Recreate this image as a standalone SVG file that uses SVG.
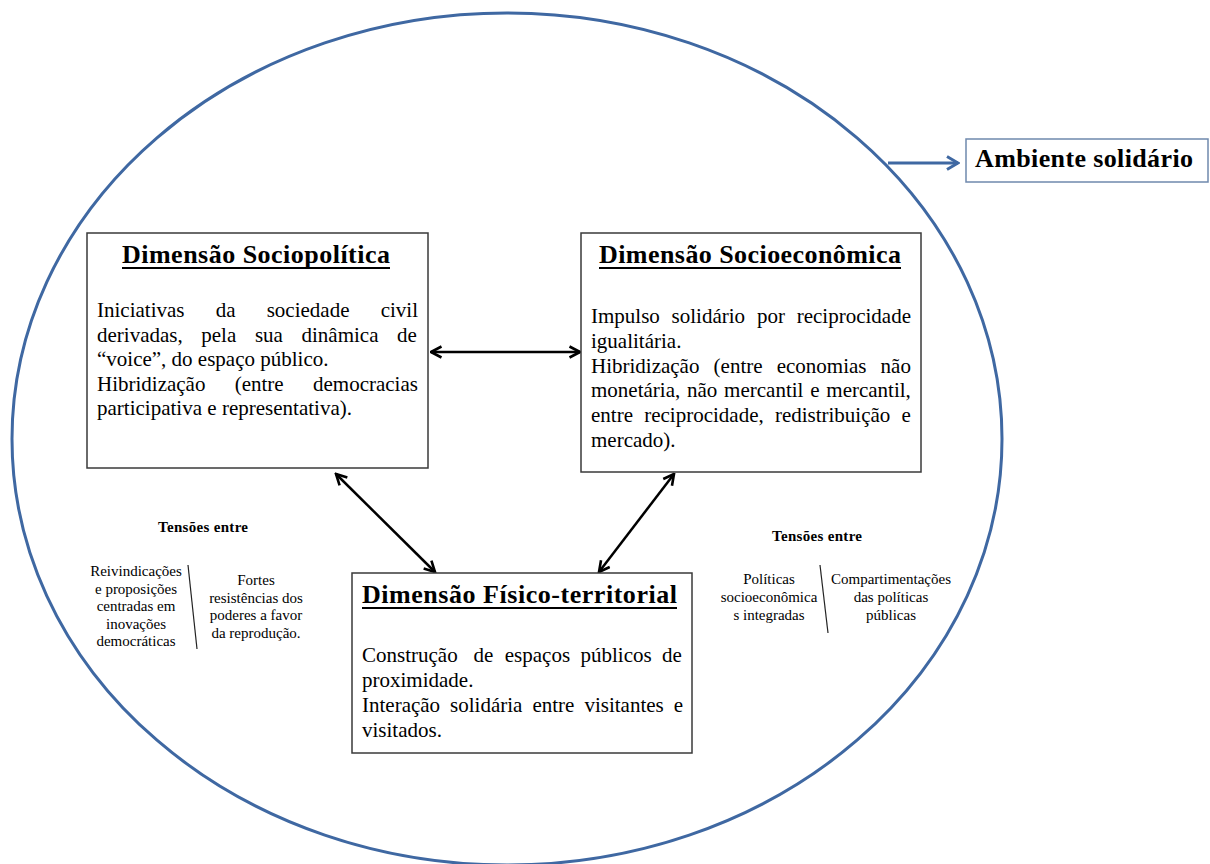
<svg xmlns="http://www.w3.org/2000/svg" width="1210" height="864" viewBox="0 0 1210 864">
  <style>
    .box { fill: #ffffff; stroke: #3a3a3a; stroke-width: 1.5; }
    .title { font-family: "Liberation Serif", "Times New Roman", serif; font-weight: bold; font-size: 26px; fill: #000; }
    .uline { stroke: #000; stroke-width: 2; }
    .body { font-family: "Liberation Serif", "Times New Roman", serif; font-size: 21px; fill: #000; }
    .small { font-family: "Liberation Serif", "Times New Roman", serif; font-size: 15px; fill: #000; text-anchor: middle; }
    .smallb { font-family: "Liberation Serif", "Times New Roman", serif; font-size: 15px; font-weight: bold; fill: #000; text-anchor: middle; }
    .link { stroke: #000; stroke-width: 2.5; fill: none; }
    .sep { stroke: #222; stroke-width: 1.2; }
  </style>
  <defs>
    <marker id="head" viewBox="0 0 14 14" refX="12.5" refY="7" markerWidth="14" markerHeight="14" markerUnits="userSpaceOnUse" orient="auto-start-reverse">
      <path d="M2,1.5 L12.5,7 L2,12.5" fill="none" stroke="#000" stroke-width="2.6" stroke-linejoin="miter"/>
    </marker>
    <marker id="headBlue" viewBox="0 0 16 16" refX="14" refY="8" markerWidth="16" markerHeight="16" markerUnits="userSpaceOnUse" orient="auto">
      <path d="M3,1.5 L14,8 L3,14.5" fill="none" stroke="#3f68a2" stroke-width="3"/>
    </marker>
  </defs>

  <rect width="1210" height="864" fill="#ffffff"/>

  <!-- outer environment -->
  <g id="ambiente">
    <ellipse cx="507" cy="439" rx="495" ry="426" fill="none" stroke="#3f68a2" stroke-width="3"/>
    <rect x="966" y="139" width="242" height="43" fill="#ffffff" stroke="#6f89ad" stroke-width="1.5"/>
    <text x="975" y="167" class="title" font-size="26.5" textLength="218" lengthAdjust="spacing">Ambiente solidário</text>
  </g>

  <!-- connectors -->
  <g id="connectors">
    <line x1="888" y1="163" x2="958" y2="163" stroke="#3f68a2" stroke-width="3" marker-end="url(#headBlue)"/>
    <line class="link" x1="431" y1="352" x2="580" y2="352" marker-start="url(#head)" marker-end="url(#head)"/>
    <line class="link" x1="336" y1="474" x2="435" y2="572" marker-start="url(#head)" marker-end="url(#head)"/>
    <line class="link" x1="674" y1="474" x2="599" y2="572" marker-start="url(#head)" marker-end="url(#head)"/>
  </g>

  <!-- socio-political dimension -->
  <g id="sociopolitica">
    <rect class="box" x="87" y="233" width="341" height="235"/>
    <text x="256" y="263" class="title" text-anchor="middle" textLength="268" lengthAdjust="spacing">Dimensão Sociopolítica</text>
    <line class="uline" x1="122" y1="268" x2="390" y2="268"/>
    <text class="body" y="317"><tspan x="97">Iniciativas</tspan><tspan x="215.7">da</tspan><tspan x="266.7">sociedade</tspan><tspan x="380.7">civil</tspan></text>
    <text class="body" y="341.5"><tspan x="97">derivadas,</tspan><tspan x="201.3">pela</tspan><tspan x="254.9">sua</tspan><tspan x="301.5">dinâmica</tspan><tspan x="397">de</tspan></text>
    <text class="body" x="97" y="366">“voice”, do espaço público.</text>
    <text class="body" y="390.5"><tspan x="97">Hibridização</tspan><tspan x="234.7">(entre</tspan><tspan x="313">democracias</tspan></text>
    <text class="body" x="97" y="415" textLength="255" lengthAdjust="spacing">participativa e representativa).</text>
  </g>

  <!-- socio-economic dimension -->
  <g id="socioeconomica">
    <rect class="box" x="581" y="233" width="340" height="239"/>
    <text x="750" y="263" class="title" text-anchor="middle" textLength="302" lengthAdjust="spacing">Dimensão Socioeconômica</text>
    <line class="uline" x1="599" y1="268" x2="901" y2="268"/>
    <text class="body" y="323"><tspan x="591">Impulso</tspan><tspan x="671.6">solidário</tspan><tspan x="756.9">por</tspan><tspan x="796.7">reciprocidade</tspan></text>
    <text class="body" x="591" y="347.8">igualitária.</text>
    <text class="body" y="372.6"><tspan x="591">Hibridização</tspan><tspan x="713.6">(entre</tspan><tspan x="776.7">economias</tspan><tspan x="880.6">não</tspan></text>
    <text class="body" y="397.4"><tspan x="591">monetária,</tspan><tspan x="687">não</tspan><tspan x="724.1">mercantil</tspan><tspan x="810.2">e</tspan><tspan x="826.3">mercantil,</tspan></text>
    <text class="body" y="422.2"><tspan x="591">entre</tspan><tspan x="644.2">reciprocidade,</tspan><tspan x="774.9">redistribuição</tspan><tspan x="901.6">e</tspan></text>
    <text class="body" x="591" y="447">mercado).</text>
  </g>

  <!-- physical-territorial dimension -->
  <g id="fisico-territorial">
    <rect class="box" x="352" y="573" width="340" height="180"/>
    <text x="519.5" y="603" class="title" text-anchor="middle" textLength="315" lengthAdjust="spacing">Dimensão Físico-territorial</text>
    <line class="uline" x1="362" y1="608" x2="677" y2="608"/>
    <text class="body" y="662"><tspan x="362">Construção</tspan><tspan x="473.4">de</tspan><tspan x="504.8">espaços</tspan><tspan x="580.5">públicos</tspan><tspan x="662">de</tspan></text>
    <text class="body" x="362" y="687">proximidade.</text>
    <text class="body" y="712"><tspan x="362">Interação</tspan><tspan x="450.1">solidária</tspan><tspan x="532.4">entre</tspan><tspan x="584.4">visitantes</tspan><tspan x="673.7">e</tspan></text>
    <text class="body" x="362" y="737">visitados.</text>
  </g>

  <!-- tensions on the left -->
  <g id="tensoes-esquerda">
    <text class="smallb" x="203" y="532" textLength="90" lengthAdjust="spacing">Tensões entre</text>
    <text class="small" x="136" y="576">Reivindicações</text>
    <text class="small" x="136" y="593.5">e proposições</text>
    <text class="small" x="136" y="611">centradas em</text>
    <text class="small" x="136" y="628.5">inovações</text>
    <text class="small" x="136" y="646">democráticas</text>
    <line class="sep" x1="188" y1="565" x2="197" y2="649"/>
    <text class="small" x="256" y="585">Fortes</text>
    <text class="small" x="256" y="602.5">resistências dos</text>
    <text class="small" x="256" y="620">poderes a favor</text>
    <text class="small" x="256" y="637.5">da reprodução.</text>
  </g>

  <!-- tensions on the right -->
  <g id="tensoes-direita">
    <text class="smallb" x="817" y="541" textLength="90" lengthAdjust="spacing">Tensões entre</text>
    <text class="small" x="769" y="584">Políticas</text>
    <text class="small" x="769" y="602">socioeconômica</text>
    <text class="small" x="769" y="620">s integradas</text>
    <line class="sep" x1="820" y1="565" x2="828" y2="633"/>
    <text class="small" x="891" y="584">Compartimentações</text>
    <text class="small" x="891" y="602">das políticas</text>
    <text class="small" x="891" y="620">públicas</text>
  </g>
</svg>
